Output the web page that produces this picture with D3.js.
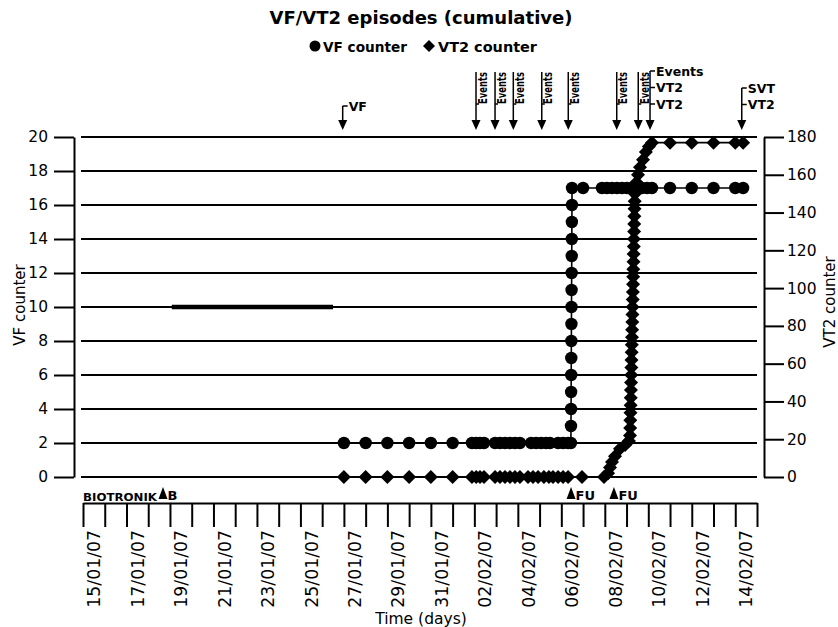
<!DOCTYPE html>
<html><head><meta charset="utf-8">
<script src="https://cdn.jsdelivr.net/npm/d3@7"></script>
<style>
html,body{margin:0;padding:0;background:#fff;}
svg{display:block;font-family:"DejaVu Sans",Verdana,sans-serif;}
</style></head><body>
<svg id="chart" width="838" height="627"></svg>
<script>
// ---------- data ----------
const chartTitle = "VF/VT2 episodes (cumulative)";
const legendLabels = ["VF counter", "VT2 counter"];
const vfTicks = [0, 2, 4, 6, 8, 10, 12, 14, 16, 18, 20];
const vt2Ticks = [0, 20, 40, 60, 80, 100, 120, 140, 160, 180];
const xTickDays = ["2007-01-15","2007-01-17","2007-01-19","2007-01-21","2007-01-23","2007-01-25","2007-01-27","2007-01-29","2007-01-31","2007-02-02","2007-02-04","2007-02-06","2007-02-08","2007-02-10","2007-02-12","2007-02-14"];
const xTickLabels = ["15/01/07","17/01/07","19/01/07","21/01/07","23/01/07","25/01/07","27/01/07","29/01/07","31/01/07","02/02/07","04/02/07","06/02/07","08/02/07","10/02/07","12/02/07","14/02/07"];

const vfTimes = [
 "2007-01-27 00:00","2007-01-28 00:00","2007-01-29 00:00","2007-01-30 00:00","2007-01-31 00:00","2007-02-01 00:00",
 "2007-02-01 21:20","2007-02-02 02:00","2007-02-02 06:15","2007-02-02 10:40",
 "2007-02-02 22:50","2007-02-03 04:20","2007-02-03 09:50","2007-02-03 15:20","2007-02-03 20:50","2007-02-04 02:20",
 "2007-02-04 14:40","2007-02-04 20:10","2007-02-05 01:40","2007-02-05 07:10","2007-02-05 11:30",
 "2007-02-05 20:25","2007-02-06 01:55","2007-02-06 07:25","2007-02-06 10:35",
 "2007-02-06 10:40","2007-02-06 10:45","2007-02-06 10:50","2007-02-06 10:55","2007-02-06 11:00","2007-02-06 11:05",
 "2007-02-06 11:10","2007-02-06 11:15","2007-02-06 11:20","2007-02-06 11:25","2007-02-06 11:30","2007-02-06 11:35",
 "2007-02-06 11:40","2007-02-06 11:45","2007-02-06 11:50",
 "2007-02-07 00:00","2007-02-07 20:50","2007-02-08 02:20","2007-02-08 07:55","2007-02-08 13:25","2007-02-08 19:00",
 "2007-02-09 00:30","2007-02-09 06:00","2007-02-09 11:30","2007-02-09 17:00","2007-02-09 22:35","2007-02-10 04:05",
 "2007-02-11 00:00","2007-02-12 00:00","2007-02-13 00:00","2007-02-14 00:00","2007-02-14 08:40"
];
const vfValues = [
 2,2,2,2,2,2,
 2,2,2,2,
 2,2,2,2,2,2,
 2,2,2,2,2,
 2,2,2,2,
 3,4,5,6,7,8,
 9,10,11,12,13,14,
 15,16,17,
 17,17,17,17,17,17,
 17,17,17,17,17,17,
 17,17,17,17,17
];

const vt2Times = [
 "2007-01-27 00:00","2007-01-28 00:00","2007-01-29 00:00","2007-01-30 00:00","2007-01-31 00:00","2007-02-01 00:00",
 "2007-02-01 21:20","2007-02-02 02:00","2007-02-02 06:15","2007-02-02 10:40",
 "2007-02-02 22:50","2007-02-03 04:20","2007-02-03 09:50","2007-02-03 15:20","2007-02-03 20:50","2007-02-04 02:20",
 "2007-02-04 11:15","2007-02-04 16:45","2007-02-04 22:20","2007-02-05 04:50","2007-02-05 10:20","2007-02-05 14:50",
 "2007-02-05 20:25","2007-02-06 01:55","2007-02-06 07:25","2007-02-06 22:50",
 "2007-02-07 23:05","2007-02-08 03:35","2007-02-08 05:45","2007-02-08 07:55","2007-02-08 11:15","2007-02-08 16:45",
 "2007-02-08 22:20","2007-02-09 02:40",
 "2007-02-09 03:50","2007-02-09 04:00","2007-02-09 04:10","2007-02-09 04:20","2007-02-09 04:30","2007-02-09 04:40",
 "2007-02-09 04:50","2007-02-09 05:00","2007-02-09 05:10","2007-02-09 05:20","2007-02-09 05:30","2007-02-09 05:40",
 "2007-02-09 05:50","2007-02-09 06:00","2007-02-09 06:10","2007-02-09 06:20","2007-02-09 06:30","2007-02-09 06:40",
 "2007-02-09 06:50","2007-02-09 07:00","2007-02-09 07:10","2007-02-09 07:20","2007-02-09 07:30","2007-02-09 07:40",
 "2007-02-09 07:50","2007-02-09 08:00","2007-02-09 08:10","2007-02-09 08:20","2007-02-09 08:30","2007-02-09 08:40",
 "2007-02-09 08:50","2007-02-09 09:00","2007-02-09 09:10","2007-02-09 09:20",
 "2007-02-09 11:00","2007-02-09 12:40","2007-02-09 14:50","2007-02-09 18:10","2007-02-09 21:20","2007-02-10 00:40",
 "2007-02-10 04:05","2007-02-11 00:00","2007-02-12 00:00","2007-02-13 00:00","2007-02-14 00:00","2007-02-14 08:40"
];
const vt2Values = [
 0,0,0,0,0,0,
 0,0,0,0,
 0,0,0,0,0,0,
 0,0,0,0,0,0,
 0,0,0,0,
 0,2,5,8,11,15,
 17,19,
 22,26,30,34,38,42,
 46,50,54,58,62,66,
 70,74,78,82,86,90,
 94,98,102,106,110,114,
 118,122,126,130,134,138,
 142,146,150,154,
 156,160,164,168,172,175,
 177,177,177,177,177,177
];

// highlighted segment on the VF=10 line
const highlightValue = 10;
const highlightSpan = ["2007-01-19 02:00", "2007-01-26 12:00"];

// top annotations (arrows)
const annoTimes = ["2007-01-26 22:40","2007-02-02 01:50","2007-02-02 22:50","2007-02-03 19:00","2007-02-05 02:25","2007-02-06 07:40","2007-02-08 13:10","2007-02-09 12:55","2007-02-10 01:55","2007-02-14 07:10"];
const annoLabels = [["VF"],["Events"],["Events"],["Events"],["Events"],["Events"],["Events"],["Events"],["Events","VT2","VT2"],["SVT","VT2"]];
const annoRotated = [false,true,true,true,true,true,true,true,false,false];

// bottom markers
const markerTimes = ["2007-01-18 16:20","2007-02-06 10:45","2007-02-08 10:05"];
const markerLabels = ["B","FU","FU"];
const brandLabel = "BIOTRONIK";
const xTitle = "Time (days)";

// ---------- drawing ----------
const parseT = d3.timeParse("%Y-%m-%d %H:%M");
const parseD = d3.timeParse("%Y-%m-%d");
const svg = d3.select("#chart");

const x = d3.scaleTime().domain([parseD("2007-01-15"), parseD("2007-02-15")]).range([83, 757]);
const yL = d3.scaleLinear().domain([0, 20]).range([477, 137]);
const yR = d3.scaleLinear().domain([0, 180]).range([477, 137]);

// title
svg.append("text").attr("x", 421).attr("y", 24).attr("text-anchor", "middle")
  .attr("font-size", 17).attr("font-weight", "bold")
  .attr("textLength", 303).attr("lengthAdjust", "spacingAndGlyphs").text(chartTitle);

// legend
svg.append("circle").attr("cx", 315).attr("cy", 46).attr("r", 5.5).attr("fill", "#000");
svg.append("text").attr("x", 323).attr("y", 52).attr("font-size", 14).attr("font-weight", "bold")
  .attr("textLength", 84).attr("lengthAdjust", "spacingAndGlyphs").text(legendLabels[0]);
svg.append("path").attr("d", "M0,-6L6,0L0,6L-6,0Z").attr("transform", "translate(429,46)").attr("fill", "#000");
svg.append("text").attr("x", 438).attr("y", 52).attr("font-size", 14).attr("font-weight", "bold")
  .attr("textLength", 99).attr("lengthAdjust", "spacingAndGlyphs").text(legendLabels[1]);

// gridlines
svg.append("g").selectAll("line").data(vfTicks).join("line")
  .attr("x1", 81).attr("x2", 757)
  .attr("y1", d => yL(d)).attr("y2", d => yL(d))
  .attr("stroke", "#000").attr("stroke-width", 2);

// highlighted segment
svg.append("line")
  .attr("x1", x(parseT(highlightSpan[0]))).attr("x2", x(parseT(highlightSpan[1])))
  .attr("y1", yL(highlightValue)).attr("y2", yL(highlightValue))
  .attr("stroke", "#000").attr("stroke-width", 4.5);

// left axis
const gL = svg.append("g").attr("transform", "translate(74,0)")
  .call(d3.axisLeft(yL).tickValues(vfTicks).tickSize(20).tickSizeOuter(0).tickPadding(6));
// right axis
const gR = svg.append("g").attr("transform", "translate(764,0)")
  .call(d3.axisRight(yR).tickValues(vt2Ticks).tickSize(20).tickSizeOuter(0).tickPadding(3));
[gL, gR].forEach(g => {
  g.select(".domain").attr("stroke", "#000").attr("stroke-width", 2);
  g.selectAll(".tick line").attr("stroke", "#000").attr("stroke-width", 2);
  g.selectAll(".tick text").attr("font-size", 15.5).attr("fill", "#000").style("font-family", "DejaVu Sans");
});

// bottom axis
const gB = svg.append("g").attr("transform", "translate(0,503)")
  .call(d3.axisBottom(x).ticks(d3.timeDay.every(1)).tickSize(24).tickSizeOuter(0).tickFormat(""));
gB.select(".domain").attr("stroke", "#000").attr("stroke-width", 2);
gB.selectAll(".tick line").attr("stroke", "#000").attr("stroke-width", 2);

svg.append("g").selectAll("text").data(xTickDays).join("text")
  .attr("transform", d => `translate(${x(d3.timeHour.offset(parseD(d), 12))},530) rotate(-90)`)
  .attr("text-anchor", "end").attr("dy", "0.36em")
  .attr("font-size", 17.3)
  .text((d, i) => xTickLabels[i]);

// axis titles
svg.append("text").attr("transform", "translate(25,305) rotate(-90)").attr("text-anchor", "middle")
  .attr("font-size", 15).text("VF counter");
svg.append("text").attr("transform", "translate(835,302) rotate(-90)").attr("text-anchor", "middle")
  .attr("font-size", 15).text("VT2 counter");
svg.append("text").attr("x", 421).attr("y", 624).attr("text-anchor", "middle")
  .attr("font-size", 15.5).text(xTitle);

// brand + bottom markers
svg.append("text").attr("x", 83).attr("y", 501).attr("font-size", 11).attr("font-weight", "bold")
  .attr("textLength", 74).attr("lengthAdjust", "spacingAndGlyphs").text(brandLabel);
const mk = svg.append("g").selectAll("g").data(markerTimes).join("g")
  .attr("transform", d => `translate(${x(parseT(d))},0)`);
mk.append("path").attr("d", "M0,487L4.5,499L-4.5,499Z").attr("fill", "#000");
mk.append("text").attr("x", 4.5).attr("y", 500).attr("font-size", 13).attr("font-weight", "bold")
  .text((d, i) => markerLabels[i]);

// series lines
const vfData = vfTimes.map((t, i) => ({t: parseT(t), v: vfValues[i]}));
const vt2Data = vt2Times.map((t, i) => ({t: parseT(t), v: vt2Values[i]}));

svg.append("path").datum(vt2Data)
  .attr("d", d3.line().x(d => x(d.t)).y(d => yR(d.v)))
  .attr("fill", "none").attr("stroke", "#000").attr("stroke-width", 1.6);
svg.append("path").datum(vfData)
  .attr("d", d3.line().x(d => x(d.t)).y(d => yL(d.v)))
  .attr("fill", "none").attr("stroke", "#000").attr("stroke-width", 1.6);

svg.append("g").selectAll("path").data(vt2Data).join("path")
  .attr("d", "M0,-7L7,0L0,7L-7,0Z")
  .attr("transform", d => `translate(${x(d.t)},${yR(d.v)})`).attr("fill", "#000");
svg.append("g").selectAll("circle").data(vfData).join("circle")
  .attr("cx", d => x(d.t)).attr("cy", d => yL(d.v)).attr("r", 6.2).attr("fill", "#000");

// top annotations
const an = svg.append("g").selectAll("g").data(annoTimes).join("g")
  .attr("transform", d => `translate(${x(parseT(d))},0)`);
an.each(function(d, i) {
  const g = d3.select(this);
  const labels = annoLabels[i];
  g.append("path").attr("d", "M-4.5,120L4.5,120L0,130Z").attr("fill", "#000");
  if (annoRotated[i]) {
    g.append("line").attr("x1", 0).attr("x2", 0).attr("y1", 72).attr("y2", 122)
      .attr("stroke", "#000").attr("stroke-width", 1.5);
    g.append("line").attr("x1", 0).attr("x2", 3).attr("y1", 104).attr("y2", 104)
      .attr("stroke", "#000").attr("stroke-width", 1.5);
    g.append("text").attr("transform", "translate(10.5,104) rotate(-90)")
      .attr("font-size", 12.5).attr("font-weight", "bold")
      .attr("textLength", 32).attr("lengthAdjust", "spacingAndGlyphs").text(labels[0]);
  } else {
    const top = labels.length === 1 ? 106 : (labels.length === 2 ? 88 : 71);
    g.append("line").attr("x1", 0).attr("x2", 0).attr("y1", top).attr("y2", 122)
      .attr("stroke", "#000").attr("stroke-width", 1.5);
    labels.forEach((lab, k) => {
      const yy = top + k * 16.5;
      g.append("line").attr("x1", 0).attr("x2", 5).attr("y1", yy).attr("y2", yy)
        .attr("stroke", "#000").attr("stroke-width", 1.5);
      g.append("text").attr("x", 6).attr("y", yy + 4.5).attr("font-size", 12.5).attr("font-weight", "bold")
        .text(lab);
    });
  }
});
</script>
</body></html>
